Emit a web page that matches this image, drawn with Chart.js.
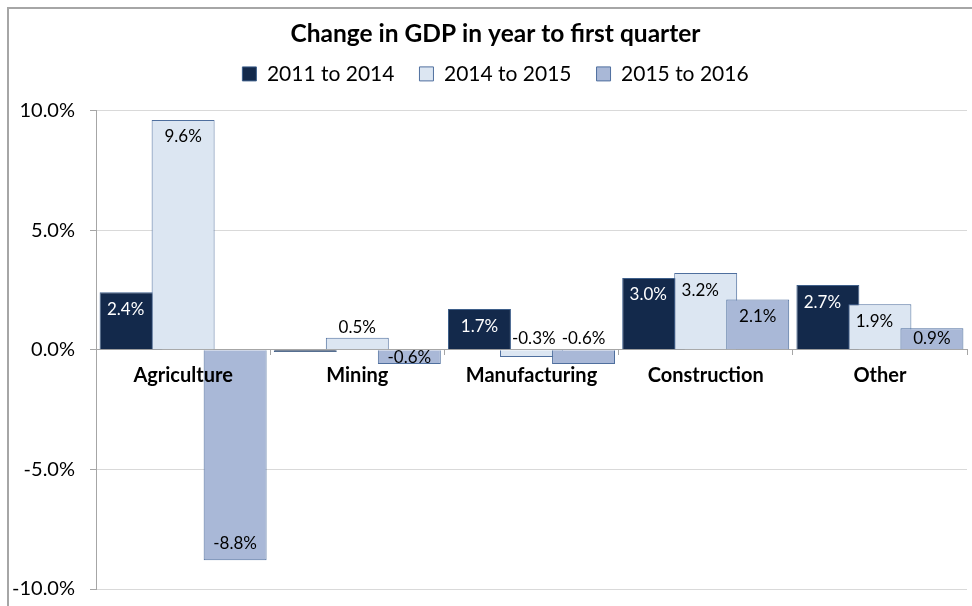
<!DOCTYPE html>
<html>
<head>
<meta charset="utf-8">
<script src="https://cdn.jsdelivr.net/npm/chart.js@4/dist/chart.umd.min.js"></script>
<style>
  body { margin: 0; background: #fff; }
  #wrap { width: 972px; height: 606px; }
</style>
</head>
<body>
<div id="wrap"><canvas id="gdpChart" width="972" height="606"></canvas></div>
<script>
const categories = ['Agriculture', 'Mining', 'Manufacturing', 'Construction', 'Other'];
const seriesNames = ['2011 to 2014', '2014 to 2015', '2015 to 2016'];
const s2011to2014 = [2.4, -0.1, 1.7, 3.0, 2.7];
const s2014to2015 = [9.6, 0.5, -0.3, 3.2, 1.9];
const s2015to2016 = [-8.8, -0.6, -0.6, 2.1, 0.9];
const yTicks = [-10, -5, 0, 5, 10];

// where a data label goes when it is not the usual "inside end" ([dataset, index])
const labelPlace = {
  '0,1': 'none',
  '1,1': 'out',
  '1,2': 'above',
  '2,2': 'above'
};

const FONT = 'Lato, "Open Sans", sans-serif';

// white page with the thin grey frame on top/left
const frame = {
  id: 'frame',
  beforeDraw(chart) {
    const ctx = chart.ctx;
    ctx.save();
    ctx.fillStyle = '#fff';
    ctx.fillRect(0, 0, chart.width, chart.height);
    ctx.strokeStyle = '#A6A6A6';
    ctx.lineWidth = 2;
    ctx.beginPath();
    ctx.moveTo(8, chart.height);
    ctx.lineTo(8, 8);
    ctx.lineTo(chart.width, 8);
    ctx.stroke();
    ctx.restore();
  }
};

// a bit more room between the legend and the plot
const legendGap = {
  id: 'legendGap',
  beforeLayout(chart) {
    const lg = chart.legend;
    if (lg && !lg._gapped) {
      const fit = lg.fit.bind(lg);
      lg.fit = function () {
        fit();
        this.height += 16;
      };
      lg._gapped = true;
    }
  }
};

// bars overlap, later series must sit on top, so draw them ourselves in index order
const overlapBars = {
  id: 'overlapBars',
  beforeDatasetDraw() {
    return false;
  },
  afterDatasetsDraw(chart) {
    const n = chart.data.datasets.length;
    for (let i = 0; i < n; i++) {
      chart.getDatasetMeta(i).controller.draw();
    }

    const ctx = chart.ctx;
    const zeroY = chart.scales.y.getPixelForValue(0);
    ctx.save();
    ctx.font = '17px ' + FONT;
    ctx.textAlign = 'center';
    ctx.textBaseline = 'middle';
    for (let i = 0; i < n; i++) {
      const meta = chart.getDatasetMeta(i);
      meta.data.forEach((bar, j) => {
        const v = chart.data.datasets[i].data[j];
        const place = labelPlace[i + ',' + j] || 'in';
        if (place === 'none') return;
        const text = v.toFixed(1) + '%';
        const tw = ctx.measureText(text).width;

        // centre the label on the visible part of the bar
        let left = bar.x - bar.width / 2;
        let right = bar.x + bar.width / 2;
        if (i < n - 1) {
          const nv = chart.data.datasets[i + 1].data[j];
          const next = chart.getDatasetMeta(i + 1).data[j];
          if (nv * v > 0) right = Math.min(right, next.x - next.width / 2);
        }
        let x = (left + right) / 2;

        const h = Math.abs(bar.base - bar.y);
        let y;
        if (place === 'out') y = bar.y - 10;
        else if (place === 'above') {
          y = zeroY - 11;
          if (i > 0 && chart.data.datasets[i - 1].data[j] > 0) {
            const prev = chart.getDatasetMeta(i - 1).data[j];
            x = Math.max(x, prev.x + prev.width / 2 + tw / 2 + 1);
          }
        } else {
          const off = Math.min(17, h / 2);
          y = v >= 0 ? bar.y + off : bar.y - off;
        }
        ctx.fillStyle = (i === 0 && place === 'in') ? '#fff' : '#000';
        ctx.fillText(text, x, y);
      });
    }
    ctx.restore();
  }
};

new Chart(document.getElementById('gdpChart'), {
  type: 'bar',
  data: {
    labels: categories,
    datasets: [
      { label: seriesNames[0], data: s2011to2014, backgroundColor: '#13294B', borderColor: '#3E5F8A', borderWidth: 1 },
      { label: seriesNames[1], data: s2014to2015, backgroundColor: '#DCE6F2', borderColor: '#4F6F9E', borderWidth: 1 },
      { label: seriesNames[2], data: s2015to2016, backgroundColor: '#A9B8D7', borderColor: '#4F6F9E', borderWidth: 1 }
    ]
  },
  options: {
    responsive: false,
    animation: false,
    categoryPercentage: 0.896,
    barPercentage: 1.21,
    layout: { padding: { top: 19, right: 5, bottom: 5, left: 24 } },
    plugins: {
      title: {
        display: true,
        text: 'Change in GDP in year to first quarter',
        color: '#000',
        font: { family: FONT, size: 24.5, weight: 'bold' },
        padding: { top: 0, bottom: -10 }
      },
      legend: {
        display: true,
        labels: {
          color: '#000',
          font: { family: FONT, size: 21 },
          boxWidth: 14,
          boxHeight: 14,
          padding: 25
        }
      },
      tooltip: { enabled: false }
    },
    scales: {
      x: {
        type: 'category',
        position: { y: 0 },
        grid: {
          offset: true,
          drawOnChartArea: false,
          drawTicks: true,
          tickLength: 5,
          color: '#A6A6A6'
        },
        border: { color: '#A6A6A6' },
        ticks: {
          z: 1,
          color: '#000',
          font: { family: FONT, size: 20, weight: 'bold' },
          padding: 9
        }
      },
      y: {
        min: -10,
        max: 10,
        afterBuildTicks(scale) {
          scale.ticks = yTicks.map(v => ({ value: v }));
        },
        afterFit(scale) {
          scale.width = 72;
          scale.paddingBottom = 17;
          // labels are wider than the box, don't clip them to it
          scale._computeLabelArea = () => undefined;
        },
        grid: {
          color: '#D9D9D9',
          tickLength: 6,
          tickColor: '#A6A6A6'
        },
        border: { color: '#A6A6A6' },
        ticks: {
          color: '#000',
          font: { family: FONT, size: 20 },
          padding: 15,
          callback: v => v.toFixed(1) + '%'
        }
      }
    }
  },
  plugins: [frame, legendGap, overlapBars]
});
</script>
</body>
</html>
